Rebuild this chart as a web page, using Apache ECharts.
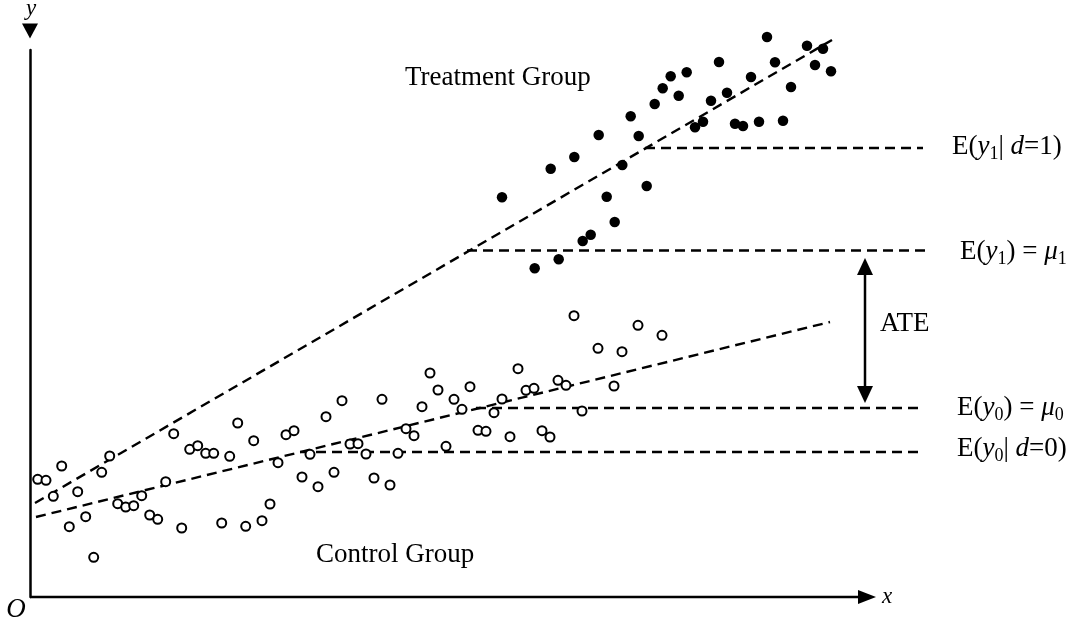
<!DOCTYPE html>
<html>
<head>
<meta charset="utf-8">
<script src="https://cdn.jsdelivr.net/npm/echarts@6/dist/echarts.min.js"></script>
<style>html,body{margin:0;padding:0;background:#fff;}#c{width:1073px;height:625px;}</style>
</head>
<body>
<div id="c"></div>
<script>
// ---- data (x, y in chart units; origin at O) ----
const controlPoints = [
  [7.7,117.7],[16,116.7],[31.7,131],[23.3,100.7],[47.7,105.3],[39.3,70.3],[55.7,80.3],[63.7,39.7],
  [71.7,124.7],[79.7,141],[87.7,93.3],[95.7,90],[103.7,91.3],[111.7,101.3],[119.7,82],[127.7,77.7],
  [135.7,115.3],[143.7,163.3],[151.7,69],[159.7,147.7],[167.7,151.3],[175.7,143.7],[183.7,143.7],
  [191.7,74],[199.7,140.7],[207.7,174],[215.7,70.7],[223.7,156.3],[232,76.3],[240,93],[248,134.3],
  [256,162.3],[264,166.3],[272,120],[288,110.3],[280,142.7],[296,180.3],[304,124.7],[312,196.3],
  [320,153],[328,153.3],[336,143],[344,119],[352,197.7],[360,112],[368,143.7],[376,168.3],[384,161.3],
  [392,190.3],[400,224],[408,207],[416,150.7],[424,197.7],[432,187.7],[440,210.3],[448,166.7],
  [456,165.7],[464,184.3],[472,198],[480,160.3],[488,228.3],[496,206.7],[504,208.7],[512,166.3],
  [520,160],[528,216.7],[536,211.7],[544,281.3],[552,186],[568,248.7],[584,211],[592,245.3],
  [608,271.7],[632,261.7]
];
const treatmentPoints = [
  [472,399.7],[520.7,428.3],[544.3,440],[568.7,462],[576.7,400.3],[592.3,432],[600.7,480.7],
  [608.7,461],[616.7,411],[624.7,493],[632.7,508.7],[640.7,520.7],[648.7,501.3],[656.7,524.7],
  [665,469.7],[673,475.3],[681,496.3],[689,535],[697,504.3],[705,473.3],[713,471],[721,520],
  [729,475.3],[737,560],[745,534.7],[753,476.3],[761,510],[777,551.3],[785,532],[793,548.3],
  [801,525.7],[504.7,328.7],[528.7,337.7],[552.7,356],[560.7,362.3],[584.7,375]
];
const treatmentFit = [[5,94],[802,557]];
const controlFit = [[6,80],[800,275]];
const levelNames = ['E(y1|d=1)','E(y1)=mu1','E(y0)=mu0','E(y0|d=0)'];
const levelY = [449, 346.5, 189, 145];
const levelStart = [615, 437, 446, 270];
const levelEnd = [893, 895, 892, 890];
const ateX = 835;
const ateEnds = [202.5, 330.5];
const xAxisEnd = 836;
const xAxisMax = 900;
const yAxisMax = 547;

const SERIF = "'Liberation Serif','Times New Roman',serif";
const dash = [10, 6];

const series = [];
// x axis line (drawn as a series so the grid can extend to the right labels)
series.push({ type: 'line', data: [[0, 0], [xAxisEnd, 0]], showSymbol: false, symbol: 'none', clip: false,
  lineStyle: { color: '#000', width: 2.5, type: 'solid' }, z: 3 });
series.push({
  type: 'scatter', name: 'Control', data: controlPoints, clip: false,
  symbol: 'circle', symbolSize: 9,
  itemStyle: { color: '#fff', borderColor: '#000', borderWidth: 2, opacity: 1 }, z: 4
});
series.push({
  type: 'scatter', name: 'Treatment', data: treatmentPoints, clip: false,
  symbol: 'circle', symbolSize: 10.5, itemStyle: { color: '#000', opacity: 1 }, z: 4
});
[treatmentFit, controlFit].forEach(function (d) {
  series.push({ type: 'line', data: d, showSymbol: false, symbol: 'none', clip: false,
    lineStyle: { color: '#000', width: 2.4, type: dash }, z: 3 });
});
levelY.forEach(function (y, i) {
  series.push({ type: 'line', name: levelNames[i], data: [[levelStart[i], y], [levelEnd[i], y]],
    showSymbol: false, symbol: 'none', clip: false,
    lineStyle: { color: '#000', width: 2.4, type: dash }, z: 3 });
});
// ATE double arrow
series.push({
  type: 'line', data: [
    { value: [ateX, ateEnds[0]], symbolRotate: 180 },
    { value: [ateX, ateEnds[1]], symbolRotate: 0 }
  ],
  symbol: 'triangle', symbolSize: [16, 17], showSymbol: true, clip: false,
  itemStyle: { color: '#000', opacity: 1 }, lineStyle: { color: '#000', width: 2.5 }, z: 5
});
// axis arrow heads
series.push({
  type: 'scatter', clip: false, data: [{ value: [xAxisEnd + 1, 0], symbolRotate: -90 }],
  symbol: 'triangle', symbolSize: [14, 18], itemStyle: { color: '#000', opacity: 1 }, z: 6
});
series.push({
  type: 'scatter', clip: false, data: [{ value: [0, yAxisMax + 19], symbolRotate: 180 }],
  symbol: 'triangle', symbolSize: [16, 15], itemStyle: { color: '#000', opacity: 1 }, z: 6
});

const rich = {
  n: { fontFamily: SERIF, fontSize: 27, lineHeight: 33, color: '#000' },
  i: { fontFamily: SERIF, fontSize: 27, lineHeight: 33, fontStyle: 'italic', color: '#000' },
  a: { fontFamily: SERIF, fontSize: 23, lineHeight: 26, fontStyle: 'italic', color: '#000' },
  s: { fontFamily: SERIF, fontSize: 18, lineHeight: 18, verticalAlign: 'bottom', color: '#000' }
};
function label(x, y, text, align) {
  return { type: 'text', x: x, y: y, z: 10,
    style: { text: text, rich: rich, align: align || 'left', verticalAlign: 'middle' } };
}

const option = {
  animation: false,
  backgroundColor: '#fff',
  grid: { left: 30, top: 50, width: xAxisMax, height: 547, containLabel: false },
  xAxis: { type: 'value', min: 0, max: xAxisMax,
    axisLine: { show: false }, axisTick: { show: false }, axisLabel: { show: false }, splitLine: { show: false } },
  yAxis: { type: 'value', min: 0, max: yAxisMax,
    axisLine: { show: true, onZero: false, lineStyle: { color: '#000', width: 2.5 } },
    axisTick: { show: false }, axisLabel: { show: false }, splitLine: { show: false } },
  series: series,
  graphic: [
    label(952, 147, '{n|E(}{i|y}{s|1}{n|| }{i|d}{n|=1)}'),
    label(960, 252, '{n|E(}{i|y}{s|1}{n|) = }{i|μ}{s|1}'),
    label(957, 407.5, '{n|E(}{i|y}{s|0}{n|) = }{i|μ}{s|0}'),
    label(957, 449, '{n|E(}{i|y}{s|0}{n|| }{i|d}{n|=0)}'),
    label(880, 324, '{n|ATE}'),
    label(405, 78, '{n|Treatment Group}'),
    label(316, 555, '{n|Control Group}'),
    label(31, 9, '{a|y}', 'center'),
    label(882, 597, '{a|x}'),
    label(16, 610, '{i|O}', 'center')
  ]
};
echarts.init(document.getElementById('c')).setOption(option);
</script>
</body>
</html>
